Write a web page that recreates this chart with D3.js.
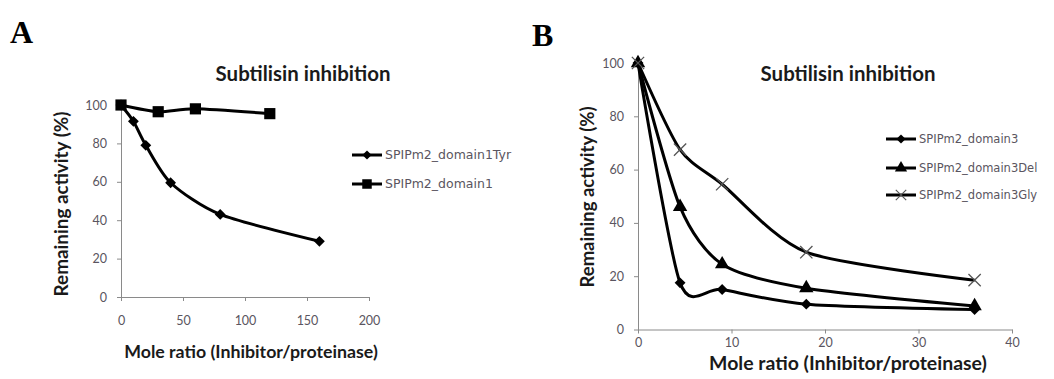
<!DOCTYPE html>
<html>
<head>
<meta charset="utf-8">
<script src="https://cdn.jsdelivr.net/npm/d3@7"></script>
<style>
  body { margin: 0; background: #fff; }
  svg { display: block; }
  .axis path, .axis line { stroke: #8a8a8a; }
  .axis text { fill: #5a5560; font-family: Lato, sans-serif; font-size: 12.5px; }
</style>
</head>
<body>
<svg width="1054" height="379"></svg>
<script>
// panel A
const aTyrX = [0, 10, 20, 40, 80, 160];
const aTyrY = [100, 91.5, 79, 59.5, 43, 29];
const aDom1X = [0, 30, 60, 120];
const aDom1Y = [100, 96.5, 98, 95.5];
const aXTicks = [0, 50, 100, 150, 200];
const aYTicks = [0, 20, 40, 60, 80, 100];

// panel B
const bX = [0, 4.5, 9, 18, 36];
const bDom3Y = [100, 17.5, 15, 9.5, 7.5];
const bDelY = [100, 46, 24.5, 15.5, 8.8];
const bGlyY = [100, 67.5, 54.5, 29, 18.5];
const bXTicks = [0, 10, 20, 30, 40];
const bYTicks = [0, 20, 40, 60, 80, 100];

const titleText = 'Subtilisin inhibition';
const xTitleText = 'Mole ratio (Inhibitor/proteinase)';
const yTitleText = 'Remaining activity (%)';

const svg = d3.select('svg');

// scale text so it spans the measured width in the picture
function fitWidth(sel, target) {
  const w = sel.node().getComputedTextLength();
  const fs = parseFloat(sel.style('font-size'));
  sel.style('font-size', (fs * target / w) + 'px');
}

function zip(xs, ys) { return xs.map((x, i) => ({x: x, y: ys[i]})); }

const markerShapes = {
  diamond: d3.symbol().type(d3.symbolDiamond2).size(75),
  square: d3.symbol().type(d3.symbolSquare).size(125),
  triangle: d3.symbol().type(d3.symbolTriangle).size(90),
  cross: d3.symbol().type(d3.symbolX).size(100)
};

function drawMarker(g, kind, cx, cy, scale) {
  const m = g.append('path')
    .attr('d', markerShapes[kind]())
    .attr('transform', `translate(${cx},${cy}) scale(${scale || 1})`);
  if (kind === 'cross') {
    m.attr('fill', 'none').attr('stroke', '#555').attr('stroke-width', 1.3);
  } else {
    m.attr('fill', '#000');
  }
}

function drawPanel(cfg) {
  const g = svg.append('g');
  const x = d3.scaleLinear().domain(cfg.xDomain).range(cfg.xRange);
  const y = d3.scaleLinear().domain([0, 100]).range(cfg.yRange);

  g.append('g').attr('class', 'axis')
    .attr('transform', `translate(0,${cfg.yRange[0]})`)
    .call(d3.axisBottom(x).tickValues(cfg.xTicks).tickSize(4).tickSizeOuter(0).tickPadding(cfg.xPad));
  g.append('g').attr('class', 'axis')
    .attr('transform', `translate(${cfg.xRange[0]},0)`)
    .call(d3.axisLeft(y).tickValues(cfg.yTicks).tickSize(4).tickSizeOuter(0).tickPadding(10));

  // smoothed lines, like the spreadsheet's smoothing
  const line = d3.line()
    .x(d => x(d.x))
    .y(d => y(d.y))
    .curve(d3.curveCardinal.tension(0.25));

  cfg.series.forEach(s => {
    const pts = zip(s.xs, s.ys);
    g.append('path')
      .datum(pts)
      .attr('d', line)
      .attr('fill', 'none')
      .attr('stroke', '#000')
      .attr('stroke-width', 3);
    pts.forEach(p => drawMarker(g, s.marker, x(p.x), y(p.y)));
  });

  // legend
  cfg.series.forEach((s, i) => {
    const ly = cfg.legendY[i];
    g.append('line')
      .attr('x1', cfg.legendX).attr('x2', cfg.legendX + 30)
      .attr('y1', ly).attr('y2', ly)
      .attr('stroke', '#000').attr('stroke-width', 3);
    drawMarker(g, s.marker, cfg.legendX + 15, ly, 0.85);
    g.append('text')
      .attr('x', cfg.legendX + 33).attr('y', ly + 4)
      .style('font-family', '"DejaVu Sans", sans-serif')
      .style('font-size', cfg.legendFont + 'px')
      .attr('fill', '#5a5560')
      .text(s.name);
  });

  const t = g.append('text')
    .attr('x', cfg.title[0]).attr('y', cfg.title[1])
    .attr('text-anchor', 'middle')
    .style('font-family', 'Lato, sans-serif').style('font-weight', 'bold').style('font-size', '16px')
    .attr('fill', '#1a1a1a')
    .text(titleText);
  fitWidth(t, 175);

  const xt = g.append('text')
    .attr('x', cfg.xTitle[0]).attr('y', cfg.xTitle[1])
    .attr('text-anchor', 'middle')
    .style('font-family', 'Lato, sans-serif').style('font-weight', 'bold').style('font-size', '15px')
    .attr('fill', '#1a1a1a')
    .text(xTitleText);
  fitWidth(xt, cfg.xTitle[2]);

  const yt = g.append('text')
    .attr('transform', `translate(${cfg.yTitle[0]},${cfg.yTitle[1]}) rotate(-90)`)
    .attr('text-anchor', 'middle')
    .style('font-family', 'Lato, sans-serif').style('font-weight', 'bold').style('font-size', '15px')
    .attr('fill', '#1a1a1a')
    .text(yTitleText);
  fitWidth(yt, cfg.yTitle[2]);

  g.append('text')
    .attr('x', cfg.letter[0]).attr('y', cfg.letter[1])
    .style('font-family', '"Liberation Serif", serif').style('font-weight', 'bold').style('font-size', '32px')
    .attr('fill', '#000')
    .text(cfg.letter[2]);
}

drawPanel({
  xDomain: [0, 200], xRange: [121, 369], yRange: [297, 105],
  xTicks: aXTicks, yTicks: aYTicks, xPad: 15,
  series: [
    {name: 'SPIPm2_domain1Tyr', xs: aTyrX, ys: aTyrY, marker: 'diamond'},
    {name: 'SPIPm2_domain1', xs: aDom1X, ys: aDom1Y, marker: 'square'}
  ],
  legendX: 352, legendY: [155, 184], legendFont: 12.5,
  title: [303, 81], xTitle: [251, 358, 254], yTitle: [68, 204, 185],
  letter: [10, 43, 'A']
});

drawPanel({
  xDomain: [0, 40], xRange: [638, 1012], yRange: [329.5, 63],
  xTicks: bXTicks, yTicks: bYTicks, xPad: 5,
  series: [
    {name: 'SPIPm2_domain3', xs: bX, ys: bDom3Y, marker: 'diamond'},
    {name: 'SPIPm2_domain3Del', xs: bX, ys: bDelY, marker: 'triangle'},
    {name: 'SPIPm2_domain3Gly', xs: bX, ys: bGlyY, marker: 'cross'}
  ],
  legendX: 886, legendY: [139, 168, 195], legendFont: 11.5,
  title: [848, 81], xTitle: [848, 370, 278], yTitle: [594, 197, 181],
  letter: [532, 46, 'B']
});
</script>
</body>
</html>
